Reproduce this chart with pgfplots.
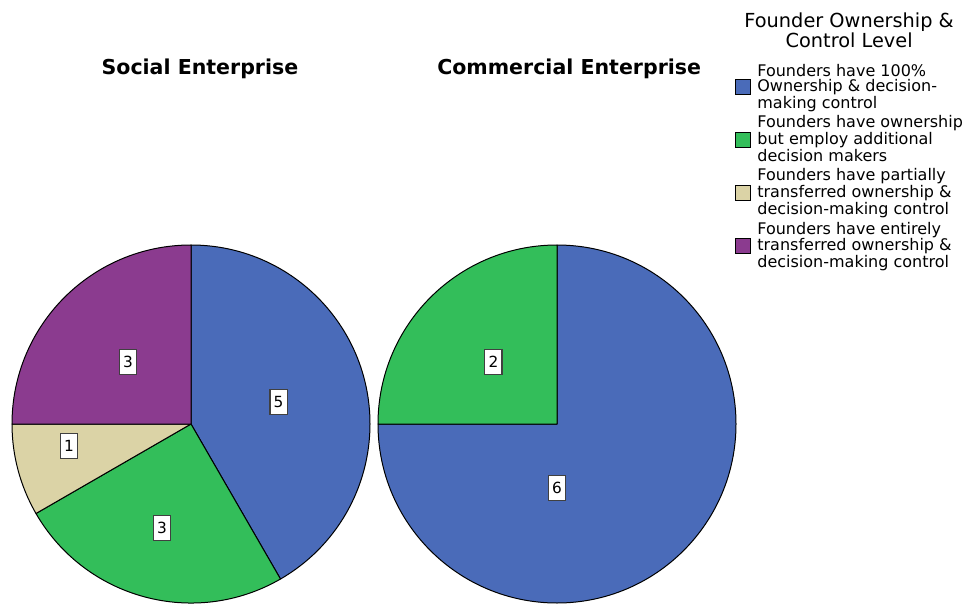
\documentclass[border=0pt]{standalone}
\usepackage{fontspec}
\setmainfont{DejaVu Sans}
\usepackage{pgfplots}
\usepackage{pgfplotstable}
\pgfplotsset{compat=1.18}
\definecolor{cBlue}{RGB}{74,107,185}
\definecolor{cGreen}{RGB}{51,190,90}
\definecolor{cBeige}{RGB}{219,211,166}
\definecolor{cPurple}{RGB}{139,59,143}

% counts per slice (order: 100% ownership, employ decision makers, partially transferred, entirely transferred)
\pgfplotstableread{
count
5
3
1
3
}\socialdata
\pgfplotstableread{
count
6
2
}\commercialdata

% cumulative angles, clockwise from 12 o'clock
\newcommand\piecomp[2]{%
  \gdef\pietot{0}%
  \pgfplotstableforeachcolumnelement{count}\of#1\as\cell{%
    \pgfmathparse{\pietot+\cell}\xdef\pietot{\pgfmathresult}}%
  \gdef\pieang{90}%
  \pgfplotstableforeachcolumnelement{count}\of#1\as\cell{%
    \pgfmathparse{\pieang-360*\cell/\pietot}%
    \expandafter\xdef\csname #2start\pgfplotstablerow\endcsname{\pieang}%
    \expandafter\xdef\csname #2end\pgfplotstablerow\endcsname{\pgfmathresult}%
    \xdef\pieang{\pgfmathresult}}%
}
\newcommand\pieR{134.25pt}
\newcommand\slice[3]{%
  \edef\tmp{\noexpand\filldraw[fill=#3,draw=black,line width=0.75pt,line join=round]
    (axis cs:0,0) -- (axis cs:{cos(\csname #1start#2\endcsname)},{sin(\csname #1start#2\endcsname)})
    arc[start angle=\csname #1start#2\endcsname,end angle=\csname #1end#2\endcsname,radius=\pieR] -- cycle;}%
  \tmp}

\pgfplotsset{
  pieaxis/.style={
    anchor=center, hide axis, scale only axis,
    x=134.25pt, y=134.25pt, xmin=-1, xmax=1, ymin=-1, ymax=1, clip=false,
    title style={font=\fontsize{15.4}{18}\selectfont\bfseries, anchor=base},
  },
}
\tikzset{
  lbl/.style={draw=black!75, fill=white, line width=1pt, inner sep=0pt,
    minimum width=13pt, minimum height=19pt, font=\fontsize{11.5}{13}\selectfont},
}

\begin{document}
\begin{tikzpicture}
\useasboundingbox (0pt,0pt) rectangle (726pt,456pt);
\piecomp{\socialdata}{S}
\piecomp{\commercialdata}{C}

\begin{axis}[pieaxis, at={(143.25pt,138pt)},
  title={Social Enterprise}, title style={at={(0.525,1.455)}}]
\slice{S}{0}{cBlue}
\slice{S}{1}{cGreen}
\slice{S}{2}{cBeige}
\slice{S}{3}{cPurple}
\node[lbl] at (axis cs:0.489,0.123) {5};
\node[lbl] at (axis cs:-0.162,-0.581) {3};
\node[lbl] at (axis cs:-0.682,-0.123) {1};
\node[lbl] at (axis cs:-0.352,0.346) {3};
\end{axis}

\begin{axis}[pieaxis, at={(417.75pt,138pt)},
  title={Commercial Enterprise}, title style={at={(0.534,1.455)}},
  legend style={at={(0.997,1.512)}, anchor=north west, draw=none, fill=none,
    inner sep=0pt, outer sep=0pt, row sep=0pt, column sep=3pt,
    font=\fontsize{12}{11.25}\selectfont,
    cells={anchor=west, align=left}},
  legend image code/.code={\draw[#1,line width=0.6pt] (0pt,-5.6pt) rectangle (11.25pt,5.6pt);},
]
\slice{C}{0}{cBlue}
\slice{C}{1}{cGreen}
\node[lbl] at (axis cs:-0.355,0.346) {2};
\node[lbl] at (axis cs:0,-0.358) {6};
\addlegendimage{fill=cBlue,draw=black}
\addlegendentry{Founders have 100\%\\Ownership \& decision-\\making control\vphantom{g}}
\addlegendimage{fill=cGreen,draw=black}
\addlegendentry{Founders have ownership\\but employ additional\\decision makers\vphantom{g}}
\addlegendimage{fill=cBeige,draw=black}
\addlegendentry{Founders have partially\\transferred ownership \&\\decision-making control\vphantom{g}}
\addlegendimage{fill=cPurple,draw=black}
\addlegendentry{Founders have entirely\\transferred ownership \&\\decision-making control\vphantom{g}}
\node[anchor=north, align=center, inner sep=0pt, font=\fontsize{14.5}{15}\selectfont]
  at (axis description cs:1.316,1.650) {Founder Ownership \&\\Control Level};
\end{axis}
\end{tikzpicture}
\end{document}
